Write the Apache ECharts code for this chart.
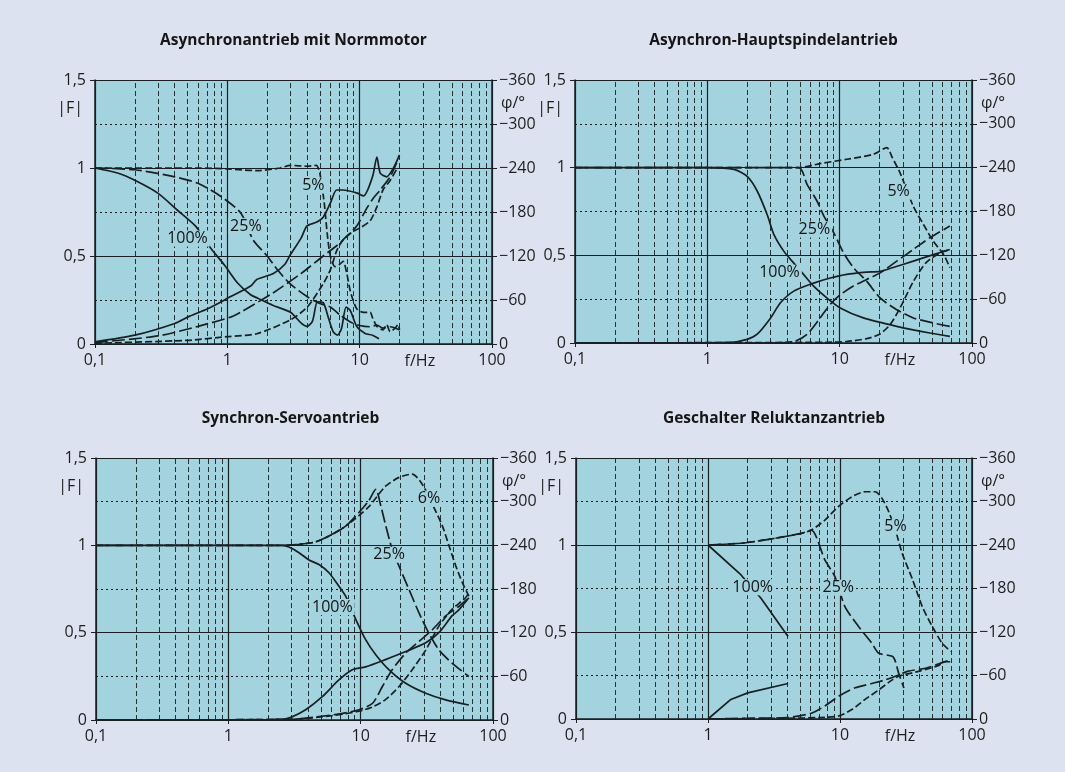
<!DOCTYPE html>
<html><head><meta charset="utf-8">
<script src="https://cdn.jsdelivr.net/npm/echarts@6/dist/echarts.min.js"></script>
<style>html,body{margin:0;padding:0;background:#dde2f0;}#c{width:1065px;height:772px;}</style>
</head><body><div id="c"></div>
<script>
// ---------- titles & ticks ----------
const titles = ['Asynchronantrieb mit Normmotor','Asynchron-Hauptspindelantrieb','Synchron-Servoantrieb','Geschalter Reluktanzantrieb'];
const xTicks = [0.1, 1, 10, 100];
const minorX = [0.2,0.3,0.4,0.5,0.6,0.7,0.8,0.9,2,3,4,5,6,7,8,9,20,30,40,50,60,70,80,90];

// ---------- Panel 1: Asynchronantrieb mit Normmotor  [f/Hz, |F|] and [f/Hz, phi/deg] ----------
const asyncNorm_mag100 = [[0.1,1.0],[0.15,0.97],[0.2,0.93],[0.3,0.856],[0.42,0.76],[0.58,0.667],[0.75,0.544],[0.95,0.449],[1.2,0.345],[1.5,0.28],[1.7,0.26],[2.2,0.22],[3.0,0.18],[3.6,0.12],[4.0,0.10],[4.4,0.13],[4.8,0.24],[5.3,0.235],[5.8,0.15],[6.3,0.07],[6.8,0.05],[7.3,0.09],[7.9,0.21],[8.5,0.19],[9.5,0.10],[11,0.06],[12.5,0.05],[14,0.03]];
const asyncNorm_mag25  = [[0.1,1.0],[0.2,0.99],[0.4,0.95],[0.6,0.913],[0.9,0.837],[1.27,0.742],[1.57,0.59],[2.0,0.5],[2.4,0.42],[3.0,0.34],[4.0,0.27],[5.0,0.23],[6.0,0.21],[7.1,0.165],[8.5,0.125],[10,0.105],[12,0.098],[13.5,0.107],[15,0.09],[17,0.098],[20,0.08]];
const asyncNorm_mag5   = [[0.1,1.0],[0.3,1.0],[0.6,1.0],[1.0,0.995],[1.7,0.985],[2.5,1.0],[3.0,1.015],[4.0,1.01],[4.7,1.015],[5.0,0.97],[5.4,0.8],[5.7,0.62],[6.0,0.5],[6.5,0.44],[7.0,0.45],[7.5,0.47],[8.0,0.40],[8.5,0.3],[9.5,0.2],[10.7,0.18],[12,0.18],[12.5,0.15],[13.5,0.1],[15,0.08],[16,0.11],[17,0.07],[18.5,0.09],[19.5,0.11],[20,0.08]];
const asyncNorm_phi100 = [[0.1,-3],[0.2,-12],[0.4,-28],[0.52,-38],[0.71,-48],[1.07,-65],[1.5,-79],[1.67,-88],[2.23,-96],[2.7,-108],[3.0,-122],[3.6,-144],[4.0,-161],[4.7,-166],[5.3,-173],[6.0,-192],[6.7,-210],[7.5,-210],[9.5,-206],[10.7,-202],[12.5,-228],[13.5,-255],[14.3,-233],[16,-228],[18,-240],[20,-258]];
const asyncNorm_phi25  = [[0.1,-2],[0.3,-11],[0.6,-24],[1.07,-37],[1.25,-43],[2.23,-70],[3.6,-96],[5.3,-120],[6.7,-134],[7.5,-142],[9.5,-161],[11.3,-185],[12.7,-199],[14.3,-210],[17,-228],[19,-247]];
const asyncNorm_phi5   = [[0.1,-1],[0.5,-5],[1.0,-10],[1.67,-14],[3,-33],[4,-50],[5.3,-82],[6,-101],[6.7,-127],[7.5,-142],[9,-154],[10,-158],[12,-168],[13.5,-187],[15,-210],[17,-223],[19,-238]];
const asyncNorm_labels = [['100%',0.5,0.60],['25%',1.38,0.67],['5%',4.47,0.90]];

// ---------- Panel 2: Asynchron-Hauptspindelantrieb ----------
const spindle_mag100 = [[0.1,1],[1,1],[1.59,0.99],[2.0,0.95],[2.38,0.867],[2.83,0.733],[3.18,0.62],[3.78,0.524],[4.37,0.467],[5.35,0.39],[6.36,0.324],[8.0,0.257],[10.1,0.2],[15.1,0.143],[27,0.095],[48,0.057],[68,0.038]];
const spindle_mag25  = [[0.1,1],[1,1],[4.9,1.0],[5.67,0.905],[6.74,0.81],[7.6,0.724],[9.0,0.63],[10.7,0.514],[12.7,0.43],[16.1,0.35],[20.2,0.257],[27,0.19],[36,0.143],[51,0.114],[68,0.095]];
const spindle_mag5   = [[0.1,1],[4.9,1.0],[7.1,1.023],[11.3,1.048],[18,1.076],[22.7,1.114],[25,1.057],[28.6,0.97],[36,0.78],[43,0.676],[51,0.58],[61,0.505],[68,0.43]];
const spindle_phi100 = [[0.1,0],[1.5,-1],[2.0,-5],[2.38,-12],[3.0,-34],[3.57,-55],[4.5,-71],[6.36,-82],[8.5,-89],[11.3,-94],[16,-97],[20.2,-98],[25,-103],[36,-112],[51,-121],[68,-128]];
const spindle_phi25  = [[0.1,0],[3,0],[4.5,-2],[5.67,-12],[7.1,-34],[8.5,-53],[10.1,-66],[12.7,-78],[16,-87],[20.2,-96],[27,-112],[36,-128],[48,-144],[68,-160]];
const spindle_phi5   = [[0.1,0],[8,-1],[11.3,-2],[16,-6],[20,-12],[24,-25],[28.6,-48],[36,-84],[45,-110],[57,-123],[68,-128]];
const spindle_labels = [['100%',3.51,0.40],['25%',6.44,0.648],['5%',27.9,0.863]];

// ---------- Panel 3: Synchron-Servoantrieb ----------
const servo_mag100 = [[0.1,1],[1,1],[2.56,1.0],[2.87,0.99],[3.42,0.958],[4.07,0.916],[4.84,0.89],[5.76,0.843],[6.85,0.766],[7.7,0.709],[9.2,0.575],[10.9,0.46],[13,0.374],[16.4,0.287],[21.9,0.21],[31,0.153],[43.9,0.115],[65.7,0.086]];
const servo_mag25  = [[0.1,1],[2.56,1.0],[3.42,1.006],[4.57,1.02],[6.1,1.063],[7.7,1.11],[9.7,1.188],[11.5,1.255],[13,1.32],[14.2,1.226],[15.5,1.11],[17.3,0.977],[19.5,0.881],[23.2,0.747],[27.6,0.613],[32.7,0.498],[39,0.402],[49,0.326],[65.7,0.249]];
const servo_mag6   = [[0.1,1],[2.56,1.0],[3.42,1.006],[4.57,1.02],[6.1,1.063],[7.7,1.11],[9.7,1.17],[11.5,1.22],[13,1.27],[15.5,1.34],[19.5,1.389],[24.5,1.408],[29.2,1.35],[36.8,1.197],[41.5,1.11],[46.6,0.996],[52.4,0.881],[58.8,0.785],[65.7,0.709]];
const servo_phi100 = [[0.1,0],[1,0],[2.56,-1],[3.0,-4],[3.84,-14],[5.13,-32],[6.85,-55],[8.65,-69],[10.9,-73],[15.4,-83],[21.9,-94],[31,-106],[39,-120],[49,-143],[55,-151],[65.7,-168]];
const servo_phi25  = [[0.1,0],[3,-1],[6.1,-7],[9.7,-14],[12.3,-23],[14.6,-46],[17.3,-69],[21.9,-92],[27.6,-108],[34.8,-124],[43.9,-143],[55.2,-156],[65.7,-168]];
const servo_phi6   = [[0.1,0],[3,-1],[6.1,-6],[9.7,-12],[12.3,-18],[15.4,-28],[19.5,-46],[24.5,-69],[31,-96],[39,-129],[49,-152],[62,-168],[65.7,-175]];
const servo_labels = [['100%',6.11,0.647],['25%',16.4,0.946],['6%',32.8,1.268]];

// ---------- Panel 4: Geschalter Reluktanzantrieb ----------
const reluct_mag100 = [[1,1.0],[1.78,0.828],[2.52,0.694],[4.04,0.474]];
const reluct_mag25  = [[1,1.0],[1.78,1.01],[3.19,1.038],[5.1,1.067],[6.07,1.086],[7.68,0.914],[9.15,0.818],[10.9,0.646],[13.8,0.532],[17.4,0.436],[19.6,0.379],[24.9,0.36],[26.3,0.33],[27.8,0.264],[30.5,0.178]];
const reluct_mag5   = [[1,1.0],[1.78,1.01],[3.19,1.038],[5.1,1.067],[6.07,1.086],[7.68,1.143],[9.7,1.22],[12.3,1.277],[15.5,1.306],[18.5,1.306],[20.8,1.268],[23.4,1.191],[26.3,1.086],[29.6,0.952],[35.5,0.8],[42,0.646],[50,0.532],[59.4,0.436],[69,0.388]];
const reluct_phi100 = [[1,0],[1.49,-27],[2.0,-36],[4.04,-49]];
const reluct_phi25  = [[1,0],[2,-1],[4,-2],[6.07,-8],[7.68,-18],[9.7,-31],[13,-43],[17.4,-49],[22,-54],[26.3,-59],[33,-66],[44.5,-70],[56,-76],[69,-82]];
const reluct_phi5   = [[1,0],[4,-1],[7,-2],[9.7,-4],[12.3,-13],[15.5,-27],[19.6,-40],[24.9,-54],[27.8,-59],[40,-66],[56,-74],[62,-79],[69,-79]];
const reluct_labels = [['100%',2.18,0.757],['25%',9.7,0.755],['5%',26.3,1.105]];

// ---------- layout / style ----------
const grids = [
  {left:95, top:80, width:397, height:264},
  {left:575, top:80, width:397, height:263},
  {left:96, top:458, width:397, height:262},
  {left:576, top:458, width:396, height:261}
];
const plotBg = '#a2d3df';
const ink = '#182024';
const txt = '#1e1e1e';
const FONT = '"Open Sans", "Noto Sans", sans-serif';
const loadStyles = ['solid', [13,4], [7,3]];

const panels = [
  {mag:[asyncNorm_mag100,asyncNorm_mag25,asyncNorm_mag5], phi:[asyncNorm_phi100,asyncNorm_phi25,asyncNorm_phi5], labels:asyncNorm_labels, straight:false},
  {mag:[spindle_mag100,spindle_mag25,spindle_mag5], phi:[spindle_phi100,spindle_phi25,spindle_phi5], labels:spindle_labels, straight:false},
  {mag:[servo_mag100,servo_mag25,servo_mag6], phi:[servo_phi100,servo_phi25,servo_phi6], labels:servo_labels, straight:false},
  {mag:[reluct_mag100,reluct_mag25,reluct_mag5], phi:[reluct_phi100,reluct_phi25,reluct_phi5], labels:reluct_labels, straight:true}
];

const chart = echarts.init(document.getElementById('c'), null, {renderer:'canvas'});
const option = {
  animation:false,
  backgroundColor:'#dde2f0',
  grid: grids.map(g => Object.assign({show:true, backgroundColor:plotBg, borderWidth:0}, g)),
  xAxis: grids.map((g,i) => ({
    type:'log', logBase:10, min:0.1, max:100, splitNumber:3, gridIndex:i,
    axisLine:{show:true, onZero:false, lineStyle:{color:ink, width:1.5}},
    axisTick:{show:true, length:4, lineStyle:{color:ink}},
    axisLabel:{margin:8, fontSize:16, fontFamily:FONT, color:txt,
      formatter: v => (v < 0.5 ? '0,1' : String(Math.round(v)))},
    splitLine:{show:true, lineStyle:{color:ink, width:1.2}}
  })),
  yAxis: [],
  series: [],
  graphic: []
};
grids.forEach((g,i) => {
  option.yAxis.push({
    type:'value', gridIndex:i, position:'left', min:0, max:1.5, interval:0.5,
    axisLine:{show:true, lineStyle:{color:ink, width:1.5}},
    axisTick:{show:true, length:5, lineStyle:{color:ink}},
    axisLabel:{margin:9, fontSize:16, fontFamily:FONT, color:txt, formatter: v => String(v).replace('.', ',')},
    splitLine:{show:true, lineStyle:{color:ink, width:1.2}}, z:3
  });
  option.yAxis.push({
    type:'value', gridIndex:i, position:'right', min:-360, max:0, interval:60, inverse:true,
    axisLine:{show:true, lineStyle:{color:ink, width:1.5}},
    axisTick:{show:true, length:5, lineStyle:{color:ink}},
    axisLabel:{margin:7, fontSize:16, fontFamily:FONT, color:txt, formatter: v => (v === 0 ? '0' : '\u2212' + Math.abs(v))},
    splitLine:{show:true, lineStyle:{color:ink, width:1, type:[2,3]}}, z:2
  });
  // minor vertical dashed grid lines
  option.series.push({
    type:'line', xAxisIndex:i, yAxisIndex:2*i, data:[], z:1, silent:true,
    markLine:{silent:true, symbol:['none','none'], label:{show:false},
      lineStyle:{color:ink, width:1, type:[5,3], opacity:0.9},
      data: minorX.map(v => ({xAxis:v}))}
  });
  const p = panels[i];
  p.mag.forEach((d,k) => option.series.push({
    type:'line', xAxisIndex:i, yAxisIndex:2*i, data:d, symbol:'none', silent:true, z:5,
    smooth: (p.straight && k===0) ? false : 0.25,
    lineStyle:{color:ink, width:1.7, type:loadStyles[k]}
  }));
  p.phi.forEach((d,k) => option.series.push({
    type:'line', xAxisIndex:i, yAxisIndex:2*i+1, data:d, symbol:'none', silent:true, z:5,
    smooth: (p.straight && k===0) ? false : 0.25,
    lineStyle:{color:ink, width:1.7, type:loadStyles[k]}
  }));
  option.series.push({
    type:'scatter', xAxisIndex:i, yAxisIndex:2*i, symbolSize:0, z:10, silent:true,
    data: p.labels.map(l => [l[1], l[2], l[0]]),
    label:{show:true, position:'inside', formatter: q => q.value[2], fontSize:16, fontFamily:FONT,
      color:'#141414', opacity:1, backgroundColor:plotBg, padding:[0,2]}
  });
});
chart.setOption(option);

// texts around the plots
const gfx = [];
grids.forEach((g,i) => {
  gfx.push({type:'text', x:g.left + g.width/2 - (i===2?4:0), y:g.top - 39,
    style:{text:titles[i], font:'bold 15.5px ' + FONT, fill:'#161616', textAlign:'center', align:'center', textVerticalAlign:'middle', verticalAlign:'middle'}});
  gfx.push({type:'text', x:g.left - 12, y:g.top + 28,
    style:{text:'|F|', font:'16px ' + FONT, fill:txt, textAlign:'right', align:'right', textVerticalAlign:'middle', verticalAlign:'middle'}});
  gfx.push({type:'text', x:g.left + g.width + 9, y:g.top + 23,
    style:{text:'\u03c6/\u00b0', font:'16px ' + FONT, fill:txt, textAlign:'left', align:'left', textVerticalAlign:'middle', verticalAlign:'middle'}});
  const px = chart.convertToPixel({xAxisIndex:i}, 28.5);
  gfx.push({type:'text', x:px, y:g.top + g.height + 17,
    style:{text:'f/Hz', font:'16px ' + FONT, fill:txt, textAlign:'center', align:'center', textVerticalAlign:'middle', verticalAlign:'middle'}});
});
chart.setOption({graphic: gfx});
</script></body></html>
